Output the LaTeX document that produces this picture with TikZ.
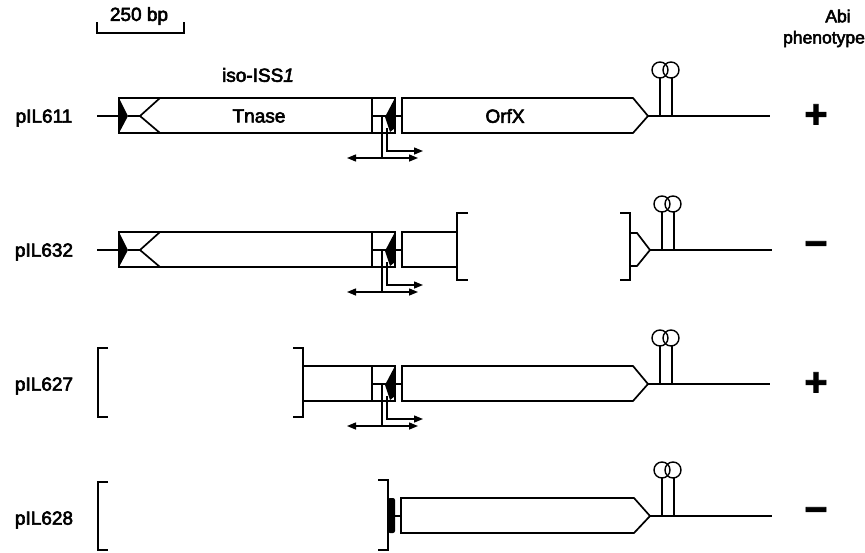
\documentclass[tikz,border=0pt]{standalone}
\usepackage{fontspec}
\setmainfont{Liberation Sans}[FakeBold=3]
\newfontfamily\signfont{Liberation Sans}[FakeBold=2]
\usetikzlibrary{arrows.meta}
\tikzset{
  ln/.style={line width=1.7pt, line join=miter},
  thinln/.style={line width=1.4pt},
  lab/.style={font=\fontsize{19}{22}\selectfont, inner sep=0pt},
  sign/.style={font=\fontsize{40}{42}\selectfont\signfont\bfseries, inner sep=0pt},
  tip/.style={-{Triangle[length=9pt,width=7pt]}},
  dtip/.style={{Triangle[length=9pt,width=7pt]}-{Triangle[length=9pt,width=7pt]}},
  pics/isleft/.style={code={
    \draw[ln] (97,0) -- (119,0);
    \draw[ln] (372,-18) -- (119,-18) -- (119,17) -- (372,17) -- cycle;
    \fill (119,-18) -- (128,0) -- (119,17) -- cycle;
    \draw[ln] (128,0) -- (140,0);
    \draw[ln] (160,-18) -- (140,0) -- (160,17);
  }},
  pics/irright/.style={code={
    \draw[ln] (372,-18) -- (395,-18) -- (395,17) -- (372,17);
    \draw[ln] (372,0) -- (388,0);
    \fill (395,-18) -- (385,1) -- (390,16) -- (395,12) -- cycle;
    \draw[ln] (395,0) -- (402,0);
    \draw[thinln] (382,0) -- (382,42);
    \draw[thinln,dtip] (347,42) -- (418,42);
    \draw[thinln,tip] (387,12) -- (387,35) -- (423,35);
  }},
  pics/orfx/.style={code={
    \draw[ln] (402,-18) -- (633,-18) -- (648,0) -- (633,17) -- (402,17) -- cycle;
  }},
  pics/term/.style={code={
    \draw[ln] (648,0) -- (770,0);
    \draw[ln] (660,0) -- (660,-38);
    \draw[ln] (672,0) -- (672,-38);
    \draw[thinln] (660,-46) circle (8);
    \draw[thinln] (671,-46) circle (8);
  }},
}
\begin{document}
\begin{tikzpicture}[x=1pt,y=-1pt]
\useasboundingbox (0,0) rectangle (865,552);
% scale bar
\draw[thinln] (97,22) -- (97,33) -- (184,33) -- (184,22);
\node[lab] (scale) at (139,16) {250 bp};
\node[lab,font=\fontsize{17.5}{20}\selectfont] (abi) at (838,16) {Abi};
\node[lab,font=\fontsize{17.5}{20}\selectfont] (pheno) at (824,39) {phenotype};
\node[lab] (iso) at (258,75) {iso-ISS\textit{1}};
% row 1
\begin{scope}[shift={(0,116)}]
  \pic {isleft}; \pic {irright}; \pic {orfx}; \pic {term};
  \node[lab] (tnase) at (259,0) {Tnase};
  \node[lab] (orfx) at (505,0) {OrfX};
  \node[lab] (p611) at (44,2) {pIL611};
  \node[sign] (s1) at (816,0) {+};
\end{scope}
% row 2
\begin{scope}[shift={(0,250)}]
  \pic {isleft}; \pic {irright};
  \draw[ln] (457,-18) -- (402,-18) -- (402,17) -- (457,17);
  \draw[ln] (468,-37) -- (457,-37) -- (457,30) -- (468,30);
  \draw[ln] (620,-37) -- (630,-37) -- (630,30) -- (620,30);
  \draw[ln] (630,-17) -- (637,-17) -- (650,0) -- (637,16) -- (630,16);
  \begin{scope}[xshift=2pt]\pic {term};\end{scope}
  \node[lab] (p632) at (44,2) {pIL632};
  \node[sign] (s2) at (816,-1) {−};
\end{scope}
% row 3
\begin{scope}[shift={(0,384)}]
  \draw[ln] (108,-36) -- (98,-36) -- (98,33) -- (108,33);
  \draw[ln] (293,-36) -- (303,-36) -- (303,33) -- (293,33);
  \draw[ln] (303,-18) -- (372,-18) (303,17) -- (372,17) (372,-18) -- (372,17);
  \pic {irright}; \pic {orfx}; \pic {term};
  \node[lab] (p627) at (44,2) {pIL627};
  \node[sign] (s3) at (816,0) {+};
\end{scope}
% row 4
\begin{scope}[shift={(0,516)}]
  \draw[ln] (108,-34) -- (98,-34) -- (98,34) -- (108,34);
  \draw[ln] (378,-36) -- (388,-36) -- (388,34) -- (378,34);
  \fill[rounded corners=2pt] (388,-18) rectangle (395,17);
  \draw[ln] (395,0) -- (401,0);
  \draw[ln] (401,-18) -- (634,-18) -- (650,0) -- (634,17) -- (401,17) -- cycle;
  \begin{scope}[xshift=2pt]\pic {term};\end{scope}
  \node[lab] (p628) at (44,4) {pIL628};
  \node[sign] (s4) at (816,-1) {−};
\end{scope}
\end{tikzpicture}
\end{document}
